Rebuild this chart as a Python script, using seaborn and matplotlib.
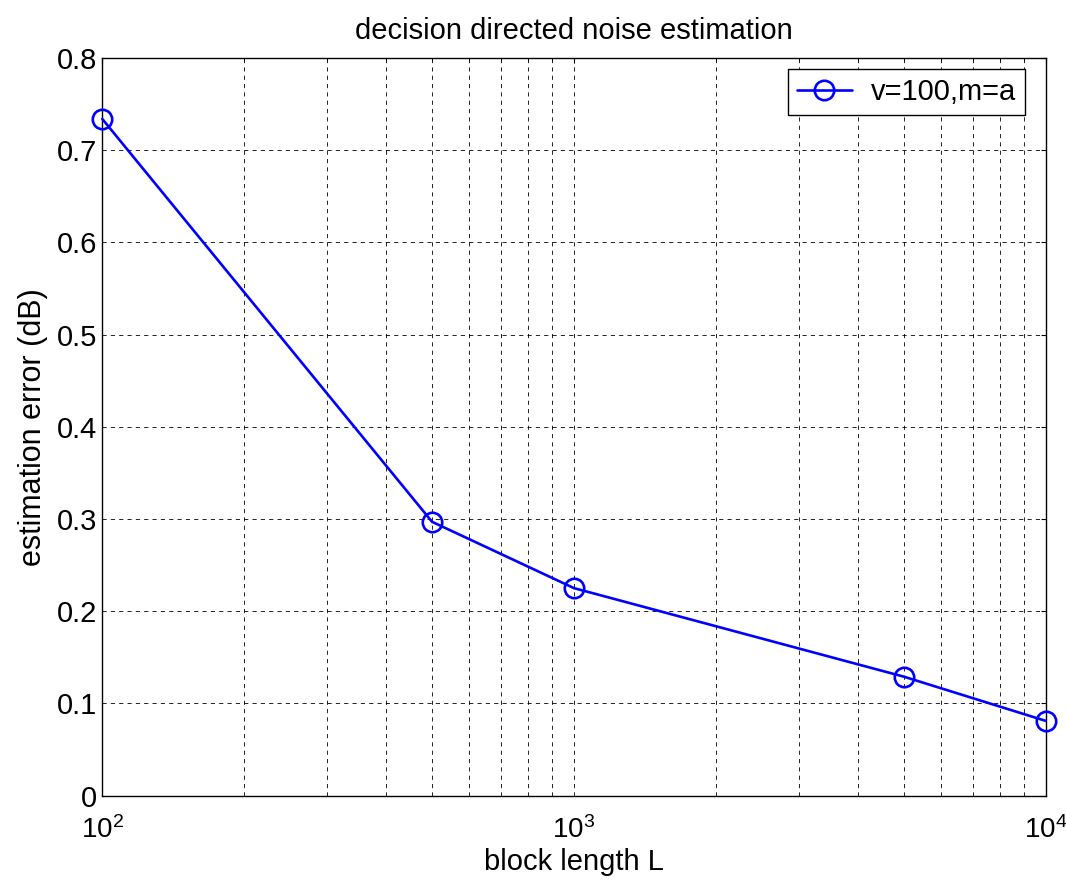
import numpy as np
import pandas as pd
import matplotlib
matplotlib.use('Agg')
import matplotlib.pyplot as plt
import matplotlib.transforms as mtransforms
import seaborn as sns
from matplotlib.ticker import LogLocator, NullFormatter

sns.set_style('white')
plt.rcParams['font.family'] = ['Liberation Sans', 'DejaVu Sans']
plt.rcParams['text.color'] = 'black'
plt.rcParams['axes.labelcolor'] = 'black'
plt.rcParams['xtick.color'] = 'black'
plt.rcParams['ytick.color'] = 'black'

# 데이터
block_len = [100, 500, 1000, 5000, 10000]
est_error = [0.734, 0.297, 0.225, 0.129, 0.081]
label = 'v=100,m=a'

df = pd.DataFrame({'L': block_len, 'err': est_error, 'name': label})

fig = plt.figure(figsize=(10.66, 8.81), dpi=100)
ax = fig.add_axes([0.096, 0.097, 0.885, 0.837])

sns.lineplot(data=df, x='L', y='err', hue='name', palette=['#0000ff'],
             marker='o', markersize=14, markerfacecolor='none',
             markeredgecolor='#0000ff', markeredgewidth=1.9,
             linewidth=1.9, ax=ax)
for ln in ax.lines:
    ln.set_clip_on(False)
    ln.set_zorder(5)

ax.set_xscale('log')
ax.set_xlim(100, 10000)
ax.set_ylim(0, 0.8)
ax.set_yticks(np.arange(0, 0.81, 0.1))
ax.set_yticklabels(['0', '0.1', '0.2', '0.3', '0.4', '0.5', '0.6', '0.7', '0.8'])
ax.xaxis.set_minor_locator(LogLocator(base=10, subs=np.arange(2, 10)))
ax.xaxis.set_minor_formatter(NullFormatter())

ax.grid(True, which='major', linestyle=(0, (5, 5)), color='black', linewidth=0.6)
ax.grid(True, which='minor', axis='x', linestyle=(0, (5, 5)), color='black', linewidth=0.6)
ax.tick_params(which='both', direction='in', labelsize=21, top=True, right=True)
ax.tick_params(axis='x', which='major', pad=15, labelsize=20)
ax.tick_params(axis='y', which='major', pad=4)
for s in ax.spines.values():
    s.set_color('black')
    s.set_linewidth(1.0)

ax.set_xlabel('block length L', fontsize=21)
ax.xaxis.set_label_coords(0.5, -0.071)
ax.set_ylabel('estimation error (dB)', fontsize=22)
ax.yaxis.set_label_coords(-0.058, 0.5)
ax.set_title('decision directed noise estimation', fontsize=21, pad=14)

leg = ax.legend(loc='upper right', bbox_to_anchor=(0.978, 0.985),
                fontsize=21, frameon=True, fancybox=False,
                edgecolor='black', framealpha=1, handlelength=1.9,
                handletextpad=0.65, borderpad=0.3, borderaxespad=0)
leg.get_frame().set_linewidth(1.0)

# 오른쪽 끝 10^4 라벨이 잘리지 않도록 살짝 왼쪽으로
fig.canvas.draw()
last = ax.get_xticklabels()[-1]
last.set_transform(last.get_transform() +
                   mtransforms.ScaledTranslation(-6 / 72, 0, fig.dpi_scale_trans))

fig.savefig('out.png', dpi=100)
